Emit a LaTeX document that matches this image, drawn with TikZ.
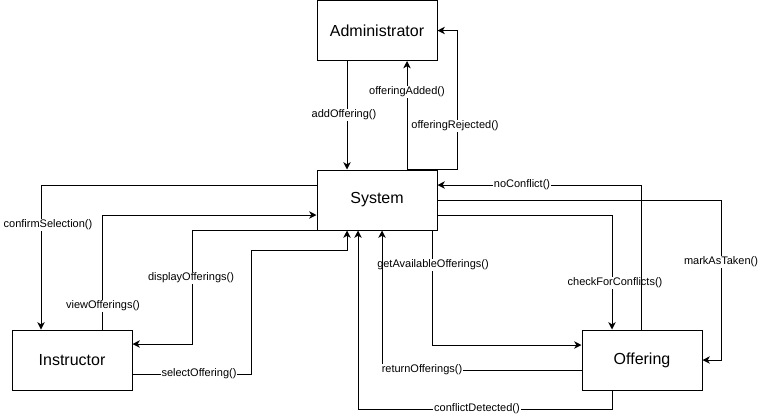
\documentclass[tikz,border=0pt]{standalone}
\usepackage{fontspec}
\setmainfont{Liberation Sans}
\usetikzlibrary{arrows.meta}
\begin{document}
\begin{tikzpicture}[x=0.75pt,y=-0.75pt,
  box/.style={draw, line width=0.75pt, minimum width=90pt, minimum height=45pt,
    inner sep=0pt, font=\fontsize{12}{14}\selectfont},
  link/.style={line width=0.75pt,
    -{Stealth[length=5.5pt,width=5.5pt,inset=1.6pt]}},
  lbl/.style={fill=white, inner sep=0.6pt, font=\fontsize{8.25}{10}\selectfont}]
\useasboundingbox (0,0) rectangle (760,419);

% participants
\node[box] (adm) at (377,30.5) {Administrator};
\node[box] (sys) at (377,200) {System};
\node[box] (ins) at (72,360) {Instructor};
\node[box] (off) at (642,360) {Offering};

% guide columns and rows for the connector ends
\coordinate (x41) at (41,0);
\coordinate (x102) at (102,0);
\coordinate (x192) at (192,0);
\coordinate (x251) at (251,0);
\coordinate (x347) at (347,0);
\coordinate (x358) at (358,0);
\coordinate (x382) at (382,0);
\coordinate (x407) at (407,0);
\coordinate (x432) at (432,0);
\coordinate (x457) at (457,0);
\coordinate (x612) at (612,0);
\coordinate (x641) at (641,0);
\coordinate (x721) at (721,0);
\coordinate (y185) at (0,185);
\coordinate (y200) at (0,200);
\coordinate (y215) at (0,215);
\coordinate (y250) at (0,250);
\coordinate (y344) at (0,344);
\coordinate (y345) at (0,345);
\coordinate (y360) at (0,360);
\coordinate (y370) at (0,370);
\coordinate (y374) at (0,374);
\coordinate (y409) at (0,409);

% Administrator <-> System
\draw[link] (adm.south -| x347) -- (sys.north -| x347);
\node[lbl] (l-add) at (344,115) {addOffering()};
\draw[link] (sys.north -| x407) -- (adm.south -| x407);
\node[lbl] (l-added) at (407,92) {offeringAdded()};
\draw[link] (sys.north -| x407) -- (sys.north -| x457) |- (adm.east);
\node[lbl] (l-rej) at (455,126) {offeringRejected()};

% Instructor <-> System
\draw[link] (sys.west |- y185) -| (ins.north -| x41);
\node[lbl] (l-confirm) at (48,225) {confirmSelection()};
\draw[link] (ins.north -| x102) |- (sys.west |- y215);
\node[lbl] (l-view) at (103,306) {viewOfferings()};
\draw[link] (sys.south west) -| (x192 |- y344) -- (ins.east |- y344);
\node[lbl] (l-display) at (191,278) {displayOfferings()};
\draw[link] (ins.east |- y374) -| (x251 |- y250) -| (sys.south -| x347);
\node[lbl] (l-select) at (199,374) {selectOffering()};

% System <-> Offering
\draw[link] (sys.south -| x432) |- (off.west |- y345);
\node[lbl] (l-get) at (433,265) {getAvailableOfferings()};
\draw[link] (off.west |- y370) -| (sys.south -| x382);
\node[lbl] (l-return) at (422,370) {returnOfferings()};
\draw[link] (off.south -| x612) |- (x358 |- y409) -- (sys.south -| x358);
\node[lbl] (l-conflict) at (477,409) {conflictDetected()};
\draw[link] (sys.east |- y215) -| (off.north -| x612);
\node[lbl] (l-check) at (615,283) {checkForConflicts()};
\draw[link] (off.north -| x641) |- (sys.east |- y185);
\node[lbl] (l-none) at (522,185) {noConflict()};
\draw[link] (sys.east |- y200) -| (x721 |- y360) -- (off.east |- y360);
\node[lbl] (l-mark) at (721,262) {markAsTaken()};
\end{tikzpicture}
\end{document}
